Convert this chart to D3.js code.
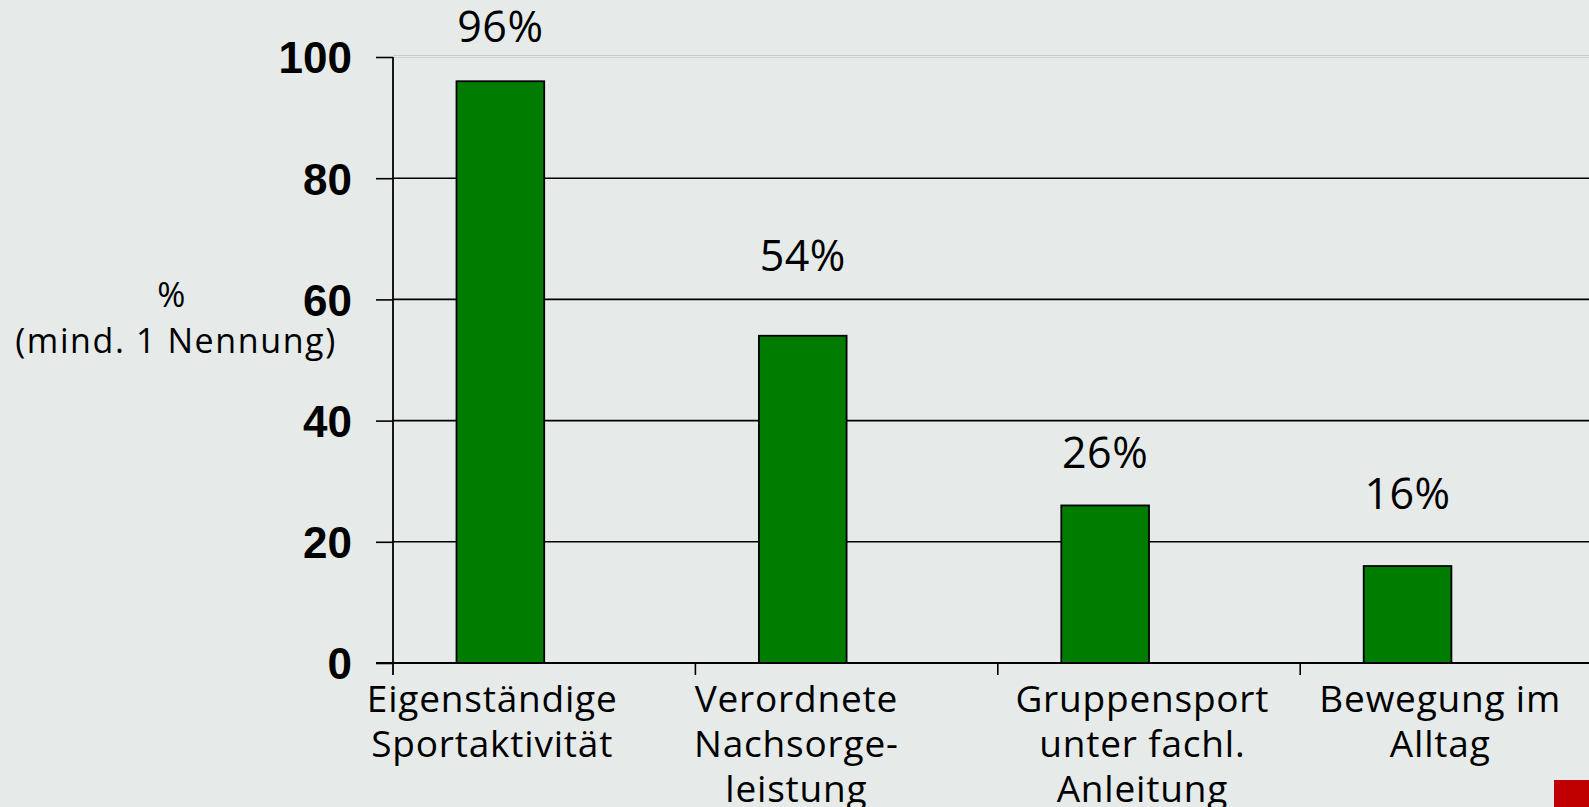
<!DOCTYPE html>
<html lang="de">
<head>
<meta charset="utf-8">
<title>Bewegung</title>
<script src="https://d3js.org/d3.v7.min.js"></script>
<style>
  body { margin: 0; background: #e6ebe9; }
  svg { display: block; }
</style>
</head>
<body>
<div id="chart"></div>
<script>
// data
var categories = [
    ["Eigenständige", "Sportaktivität"],
    ["Verordnete", "Nachsorge-", "leistung"],
    ["Gruppensport", "unter fachl.", "Anleitung"],
    ["Bewegung im", "Alltag"]
];
var values = [96, 54, 26, 16];
var yTicks = [0, 20, 40, 60, 80, 100];

// layout (not data)
var W = 1589, H = 807;
var x0 = 393, y0 = 663, yTop = 57, band = 302.4;
var labelAt = [0.328, 0.334, 0.478, 0.463];   // where the category text sits in its band
var valueLift = [39, 65, 37, 57];              // gap between bar top and value label
var textFont = "'Open Sans', 'Noto Sans', sans-serif";

var svg = d3.select("#chart").append("svg")
    .attr("width", W)
    .attr("height", H);

svg.append("rect").attr("width", W).attr("height", H).attr("fill", "#e6ebe9");

var x = d3.scaleBand()
    .domain(d3.range(categories.length))
    .range([x0, x0 + band * categories.length])
    .paddingInner(0).paddingOuter(0);

var y = d3.scaleLinear()
    .domain([0, 100])
    .range([y0, yTop]);

// top border (light, double)
svg.append("line")
    .attr("x1", x0).attr("x2", W)
    .attr("y1", y(100) - 1.5).attr("y2", y(100) - 1.5)
    .attr("stroke", "#c8cdcb").attr("stroke-width", 1.2);
svg.append("line")
    .attr("x1", x0).attr("x2", W)
    .attr("y1", y(100) + 0.5).attr("y2", y(100) + 0.5)
    .attr("stroke", "#cfd4d2").attr("stroke-width", 1.2);

// y axis with gridlines
var yAxis = svg.append("g")
    .attr("transform", "translate(" + x0 + ",0)")
    .call(d3.axisLeft(y).tickValues(yTicks).tickSize(17).tickPadding(24));
yAxis.select(".domain").remove();
yAxis.selectAll(".tick line").attr("stroke", "#000").attr("stroke-width", 1.6);
yAxis.selectAll(".tick text")
    .attr("fill", "#000")
    .style("font-family", "'Liberation Sans', Arial, sans-serif")
    .style("font-weight", "bold")
    .style("font-size", "44px")
    .attr("dy", "0.36em");

svg.selectAll(".grid")
    .data(yTicks.filter(function(d) { return d > 0 && d < 100; }))
    .enter().append("line")
    .attr("class", "grid")
    .attr("x1", x0).attr("x2", W)
    .attr("y1", function(d) { return y(d); })
    .attr("y2", function(d) { return y(d); })
    .attr("stroke", "#000").attr("stroke-width", 1.6);

// vertical axis line
svg.append("line")
    .attr("x1", x0).attr("x2", x0)
    .attr("y1", y(100)).attr("y2", y0 + 12)
    .attr("stroke", "#000").attr("stroke-width", 1.8);

// bars
svg.selectAll(".bar")
    .data(values)
    .enter().append("rect")
    .attr("class", "bar")
    .attr("x", function(d, i) { return x(i) + band * 0.21; })
    .attr("width", band * 0.29)
    .attr("y", function(d) { return y(d); })
    .attr("height", function(d) { return y0 - y(d); })
    .attr("fill", "#007d00")
    .attr("stroke", "#000")
    .attr("stroke-width", 1.8);

// x axis line and ticks
svg.append("line")
    .attr("x1", x0 - 17).attr("x2", W)
    .attr("y1", y0).attr("y2", y0)
    .attr("stroke", "#000").attr("stroke-width", 1.8);
svg.selectAll(".xtick")
    .data(d3.range(1, categories.length + 1))
    .enter().append("line")
    .attr("x1", function(d) { return x0 + band * d; })
    .attr("x2", function(d) { return x0 + band * d; })
    .attr("y1", y0).attr("y2", y0 + 12)
    .attr("stroke", "#000").attr("stroke-width", 1.6);

// value labels
svg.selectAll(".val")
    .data(values)
    .enter().append("text")
    .attr("x", function(d, i) { return x(i) + band * 0.355; })
    .attr("y", function(d, i) { return y(d) - valueLift[i]; })
    .attr("text-anchor", "middle")
    .style("font-family", textFont)
    .style("font-weight", 500)
    .style("font-size", "43px")
    .style("letter-spacing", "0.5px")
    .attr("fill", "#000")
    .text(function(d) { return d + "%"; });

// category labels
var cat = svg.selectAll(".cat")
    .data(categories)
    .enter().append("text")
    .attr("text-anchor", "middle")
    .attr("x", function(d, i) { return x(i) + band * labelAt[i]; })
    .attr("y", 712)
    .style("font-family", textFont)
    .style("font-weight", 500)
    .style("font-size", "37px")
    .style("letter-spacing", "0.8px")
    .attr("fill", "#000");
cat.selectAll("tspan")
    .data(function(d) { return d; })
    .enter().append("tspan")
    .attr("x", function() { return d3.select(this.parentNode).attr("x"); })
    .attr("dy", function(d, i) { return i === 0 ? 0 : 45; })
    .text(function(d) { return d; });

// y title
var yt = svg.append("text")
    .attr("text-anchor", "middle")
    .style("font-family", textFont)
    .style("font-size", "34px")
    .style("letter-spacing", "1.6px")
    .attr("fill", "#000");
yt.append("tspan").attr("x", 172).attr("y", 307).text("%");
yt.append("tspan").attr("x", 176).attr("y", 353).text("(mind. 1 Nennung)");

// red corner mark
svg.append("rect")
    .attr("x", 1554).attr("y", 780)
    .attr("width", W - 1554).attr("height", H - 780)
    .attr("fill", "#c00000");
</script>
</body>
</html>
